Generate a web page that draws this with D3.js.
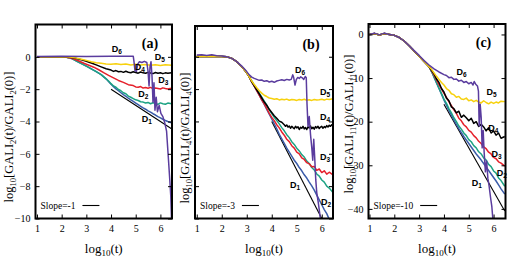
<!DOCTYPE html>
<html>
<head>
<meta charset="utf-8">
<script src="https://cdn.jsdelivr.net/npm/d3@7"></script>
<style>
  body { margin: 0; background: #fff; }
  svg { display: block; }
</style>
</head>
<body>
<div id="chart"></div>
<script>
// ---- data: log10(t) vs log10[GALI_k(t)/GALI_k(0)] ----
const xTickVals = [1, 2, 3, 4, 5, 6];
const seriesNames = ['1', '2', '3', '4', '5', '6'];
const seriesColors = ['#3b5ca9', '#1ea384', '#e5202b', '#000000', '#f7d10d', '#5a3c9e'];
const panelTags = ['(a)', '(b)', '(c)'];
const gaIndex = ['2', '4', '11'];
const slopeText = ['Slope=-1', 'Slope=-3', 'Slope=-10'];

// panel (a) GALI_2
const aTicksY = [0, -2, -4, -6, -8, -10];
const aHead = [[1, 0], [2, 0], [2.2, -0.03], [2.4, -0.1], [2.6, -0.26], [2.8, -0.42], [3.0, -0.58], [3.2, -0.74], [3.4, -0.92], [3.6, -1.1], [3.8, -1.36]];
const aD1 = aHead.concat([[3.9, -1.52], [4.0, -1.7], [4.1, -1.84], [4.2, -1.98], [4.3, -2.1], [4.4, -2.22], [4.5, -2.34], [4.6, -2.44], [4.7, -2.56], [4.8, -2.66], [4.9, -2.76], [5.0, -2.86], [5.1, -2.96], [5.2, -3.06], [5.3, -3.16], [5.4, -3.24], [5.5, -3.34], [5.6, -3.42], [5.7, -3.52], [5.8, -3.6], [5.9, -3.7], [6.0, -3.78], [6.1, -3.86], [6.2, -3.94], [6.3, -4.0], [6.45, -4.08]]);
const aD2 = aHead.concat([[3.9, -1.5], [4.0, -1.66], [4.1, -1.8], [4.2, -1.88], [4.3, -2.02], [4.4, -2.1], [4.5, -2.22], [4.6, -2.28], [4.7, -2.43], [4.8, -2.5], [4.9, -2.58], [5.0, -2.66], [5.1, -2.7], [5.2, -2.78], [5.3, -2.8], [5.4, -2.86], [5.5, -2.82], [5.6, -2.9], [5.7, -2.84], [5.8, -2.88], [5.9, -2.94], [6.0, -2.85], [6.1, -2.9], [6.2, -2.93], [6.3, -2.86], [6.45, -2.9]]);
const aD3 = [[1, 0], [2.1, 0], [2.3, -0.05], [2.5, -0.14], [2.7, -0.26], [2.9, -0.4], [3.1, -0.52], [3.3, -0.64], [3.5, -0.8], [3.7, -0.98], [3.9, -1.15], [4.1, -1.3], [4.3, -1.46], [4.5, -1.58], [4.7, -1.72], [4.9, -1.78], [5.0, -1.86], [5.1, -1.88], [5.2, -1.84], [5.3, -1.93], [5.4, -1.9], [5.5, -1.94], [5.6, -1.89], [5.7, -1.97], [5.8, -1.93], [5.9, -1.96], [6.0, -1.99], [6.1, -1.92], [6.2, -1.96], [6.3, -1.99], [6.45, -1.94]];
const aD4 = [[1, 0], [2.2, 0], [2.4, -0.04], [2.6, -0.1], [2.8, -0.18], [3.0, -0.27], [3.2, -0.38], [3.4, -0.5], [3.6, -0.62], [3.8, -0.74], [4.0, -0.82], [4.1, -0.9], [4.2, -0.85], [4.3, -0.92], [4.4, -0.9], [4.5, -0.96], [4.6, -0.89], [4.7, -0.95], [4.8, -0.98], [4.9, -0.92], [5.0, -0.97], [5.1, -1.01], [5.2, -0.94], [5.3, -0.99], [5.4, -1.02], [5.5, -0.96], [5.6, -1.0], [5.7, -1.04], [5.8, -0.97], [5.9, -1.01], [6.0, -0.98], [6.1, -1.04], [6.2, -0.99], [6.3, -1.02], [6.45, -0.98]];
const aD5 = [[1, 0], [2.2, 0], [2.4, -0.03], [2.6, -0.08], [2.8, -0.15], [3.0, -0.22], [3.2, -0.3], [3.4, -0.36], [3.6, -0.4], [3.8, -0.44], [4.0, -0.46], [4.2, -0.43], [4.4, -0.48], [4.6, -0.45], [4.8, -0.5], [5.0, -0.46], [5.2, -0.5], [5.4, -0.47], [5.6, -0.52], [5.8, -0.49], [6.0, -0.53], [6.2, -0.49], [6.45, -0.52]];
const aD6 = [[1, 0.02], [2, 0.03], [3, 0.02], [4, 0.03], [4.9, 0.04], [4.93, -0.3], [4.97, -0.85], [5.03, -0.9], [5.08, -0.45], [5.15, -0.3], [5.25, -0.35], [5.35, -0.28], [5.45, -0.35], [5.5, -0.9], [5.54, -1.8], [5.58, -0.6], [5.62, -0.3], [5.66, -1.2], [5.7, -2.8], [5.74, -1.6], [5.78, -3.3], [5.83, -2.5], [5.88, -3.4], [5.95, -3.0], [6.02, -3.5], [6.1, -3.7], [6.18, -4.1], [6.25, -4.6], [6.32, -6.2], [6.38, -7.6], [6.42, -8.6], [6.46, -10.5]];
const aSlope = [[4, -2], [6.45, -4.45]];
const aLabelPos = [[5.45, -3.84], [5.31, -2.3], [6.12, -1.43], [5.17, -0.61], [5.98, -0.03], [4.23, 0.47]];

// panel (b) GALI_4
const bTicksY = [0, -2, -4, -6, -8, -10];
const bHead = [[1, 0.02], [1.5, 0.03], [2, 0.02], [2.2, 0], [2.4, -0.1], [2.6, -0.3], [2.8, -0.6], [3.0, -1.0], [3.1, -1.25]];
const bD1 = bHead.concat([[3.2, -1.55], [3.3, -1.82], [3.4, -2.1], [3.5, -2.38], [3.6, -2.66], [3.7, -2.95], [3.8, -3.25], [3.9, -3.55], [4.0, -3.85], [4.1, -4.15], [4.2, -4.45], [4.3, -4.8], [4.4, -5.08], [4.5, -5.35], [4.6, -5.65], [4.7, -5.9], [4.8, -6.15], [4.9, -6.4], [5.0, -6.6], [5.1, -6.85], [5.2, -7.05], [5.3, -7.3], [5.4, -7.5], [5.5, -7.75], [5.6, -7.98], [5.7, -8.25], [5.8, -8.55], [5.9, -8.85], [6.0, -9.15], [6.1, -9.45], [6.2, -9.7], [6.3, -10.05], [6.4, -10.4]]);
const bD2 = bHead.concat([[3.2, -1.5], [3.3, -1.75], [3.4, -2.0], [3.5, -2.25], [3.6, -2.5], [3.7, -2.75], [3.8, -3.0], [3.9, -3.28], [4.0, -3.52], [4.1, -3.75], [4.2, -3.95], [4.3, -4.15], [4.4, -4.38], [4.5, -4.58], [4.6, -4.82], [4.7, -5.0], [4.8, -5.25], [4.9, -5.42], [5.0, -5.65], [5.1, -5.82], [5.2, -6.05], [5.3, -6.2], [5.4, -6.45], [5.5, -6.6], [5.6, -6.85], [5.7, -7.0], [5.8, -7.25], [5.9, -7.38], [6.0, -7.62], [6.1, -7.75], [6.2, -8.0], [6.3, -8.12], [6.45, -8.4]]);
const bD3 = bHead.concat([[3.2, -1.55], [3.3, -1.82], [3.4, -2.1], [3.5, -2.38], [3.6, -2.66], [3.7, -2.92], [3.8, -3.2], [3.9, -3.5], [4.0, -3.75], [4.1, -3.95], [4.2, -4.2], [4.3, -4.4], [4.4, -4.65], [4.5, -4.85], [4.6, -5.1], [4.7, -5.25], [4.8, -5.5], [4.9, -5.65], [5.0, -5.9], [5.1, -6.0], [5.2, -6.25], [5.3, -6.35], [5.4, -6.55], [5.5, -6.62], [5.6, -6.8], [5.7, -6.78], [5.8, -7.02], [5.9, -6.94], [6.0, -7.16], [6.1, -7.05], [6.2, -7.26], [6.3, -7.14], [6.45, -7.3]]);
const bD4 = bHead.concat([[3.2, -1.55], [3.3, -1.8], [3.4, -2.05], [3.5, -2.3], [3.6, -2.55], [3.7, -2.8], [3.8, -3.0], [3.9, -3.25], [4.0, -3.45], [4.1, -3.65], [4.2, -3.8], [4.3, -3.98], [4.4, -4.05], [4.5, -4.2], [4.55, -4.3], [4.6, -4.22], [4.65, -4.35], [4.7, -4.28], [4.75, -4.42], [4.8, -4.3], [4.85, -4.38], [4.9, -4.45], [4.95, -4.3], [5.0, -4.4], [5.05, -4.33], [5.1, -4.5], [5.15, -4.36], [5.2, -4.42], [5.25, -4.3], [5.3, -4.46], [5.35, -4.38], [5.4, -4.5], [5.45, -4.34], [5.5, -4.4], [5.55, -4.28], [5.6, -4.45], [5.65, -4.36], [5.7, -4.48], [5.75, -4.32], [5.8, -4.4], [5.85, -4.3], [5.9, -4.44], [5.95, -4.35], [6.0, -4.3], [6.05, -4.42], [6.1, -4.32], [6.15, -4.38], [6.2, -4.26], [6.25, -4.34], [6.3, -4.24], [6.35, -4.3], [6.4, -4.2], [6.45, -4.26]]);
const bD5 = bHead.concat([[3.2, -1.5], [3.3, -1.72], [3.4, -1.92], [3.5, -2.1], [3.6, -2.25], [3.7, -2.38], [3.8, -2.46], [3.9, -2.55], [4.0, -2.58], [4.1, -2.63], [4.2, -2.6], [4.3, -2.67], [4.4, -2.63], [4.5, -2.66], [4.6, -2.62], [4.7, -2.69], [4.8, -2.64], [4.9, -2.66], [5.0, -2.7], [5.1, -2.64], [5.2, -2.67], [5.3, -2.63], [5.4, -2.69], [5.5, -2.66], [5.6, -2.7], [5.7, -2.64], [5.8, -2.68], [5.9, -2.66], [6.0, -2.63], [6.1, -2.68], [6.2, -2.62], [6.3, -2.65], [6.45, -2.6]]);
const bD6 = [[1, 0.1], [1.2, 0.12], [1.4, 0.08], [1.6, 0.12], [1.8, 0.06], [2.0, 0.05], [2.2, 0], [2.4, -0.1], [2.6, -0.3], [2.8, -0.58], [3.0, -0.92], [3.1, -1.12], [3.2, -1.26], [3.3, -1.34], [3.4, -1.4], [3.5, -1.46], [3.6, -1.44], [3.7, -1.52], [3.8, -1.48], [3.9, -1.56], [4.0, -1.52], [4.1, -1.58], [4.2, -1.5], [4.3, -1.46], [4.4, -1.42], [4.5, -1.47], [4.6, -1.4], [4.7, -1.44], [4.78, -1.4], [4.84, -1.12], [4.88, -1.3], [4.93, -1.75], [4.98, -1.42], [5.04, -1.28], [5.1, -1.34], [5.16, -1.24], [5.22, -1.3], [5.28, -1.4], [5.34, -1.22], [5.38, -1.3], [5.41, -2.9], [5.45, -4.3], [5.5, -3.7], [5.55, -4.8], [5.6, -5.6], [5.64, -6.4], [5.68, -5.1], [5.72, -6.3], [5.76, -7.6], [5.8, -8.4], [5.86, -9.0], [5.92, -9.7], [5.98, -10.5]];
const bSlope = [[4, -4], [6, -10]];
const bLabelPos = [[4.93, -7.91], [6.17, -8.95], [6.13, -6.17], [6.13, -3.7], [6.13, -2.16], [5.13, -0.82]];

// panel (c) GALI_11
const cTicksY = [0, -10, -20, -30, -40];
const cHead = [[1, 0], [1.2, 0.2], [1.4, -0.1], [1.6, 0.2], [1.8, 0], [2.0, -0.2], [2.2, -0.7], [2.4, -1.5], [2.6, -2.6], [2.8, -3.8], [3.0, -5.0], [3.2, -6.2], [3.4, -7.4]];
const cD1 = cHead.concat([[3.5, -8.5], [3.6, -9.8], [3.7, -11.1], [3.8, -12.4], [3.9, -13.7], [4.0, -15.0], [4.1, -16.2], [4.2, -17.4], [4.3, -18.5], [4.4, -19.6], [4.5, -20.6], [4.6, -21.6], [4.7, -22.5], [4.8, -23.4], [4.9, -24.2], [5.0, -25.0], [5.1, -25.8], [5.2, -26.6], [5.3, -27.4], [5.4, -28.1], [5.5, -28.8], [5.6, -29.6], [5.7, -30.4], [5.8, -31.2], [5.9, -32.0], [6.0, -32.8], [6.1, -33.6], [6.2, -34.5], [6.3, -35.4], [6.45, -36.6]]);
const cD2 = cHead.concat([[3.5, -8.5], [3.6, -9.7], [3.7, -11.0], [3.8, -12.3], [3.9, -13.5], [4.0, -14.8], [4.1, -15.8], [4.2, -17.0], [4.3, -18.0], [4.4, -19.1], [4.5, -20.0], [4.6, -21.0], [4.7, -21.7], [4.8, -22.6], [4.9, -23.2], [5.0, -24.1], [5.1, -24.6], [5.2, -25.5], [5.3, -26.0], [5.4, -26.9], [5.5, -27.4], [5.6, -28.3], [5.7, -28.8], [5.8, -29.8], [5.9, -30.3], [6.0, -31.3], [6.1, -31.8], [6.2, -32.9], [6.3, -33.5], [6.45, -34.8]]);
const cD3 = cHead.concat([[3.5, -8.3], [3.6, -9.3], [3.7, -10.4], [3.8, -11.5], [3.9, -12.5], [4.0, -13.5], [4.1, -14.4], [4.2, -15.4], [4.3, -16.3], [4.4, -17.3], [4.5, -18.1], [4.6, -19.2], [4.7, -19.8], [4.8, -20.7], [4.9, -21.2], [5.0, -22.0], [5.1, -22.4], [5.2, -23.2], [5.3, -23.7], [5.4, -24.5], [5.5, -25.0], [5.6, -25.8], [5.7, -26.2], [5.8, -27.0], [5.9, -27.4], [6.0, -28.2], [6.1, -28.5], [6.2, -29.2], [6.3, -29.5], [6.45, -30.2]]);
const cD4 = cHead.concat([[3.5, -8.2], [3.6, -9.0], [3.7, -10.2], [3.8, -11.0], [3.9, -12.4], [4.0, -13.2], [4.1, -14.6], [4.2, -15.2], [4.3, -16.6], [4.4, -17.0], [4.5, -18.0], [4.6, -17.6], [4.7, -19.0], [4.8, -18.5], [4.9, -19.1], [5.0, -19.8], [5.1, -19.2], [5.2, -20.4], [5.3, -20.0], [5.4, -21.1], [5.5, -20.6], [5.6, -21.2], [5.7, -22.1], [5.8, -21.4], [5.9, -22.6], [6.0, -22.1], [6.1, -23.1], [6.2, -22.6], [6.3, -23.8], [6.45, -23.4]]);
const cD5 = cHead.concat([[3.5, -8.0], [3.6, -8.8], [3.7, -9.6], [3.8, -10.3], [3.9, -11.0], [4.0, -11.6], [4.1, -12.4], [4.2, -12.8], [4.3, -13.6], [4.4, -13.8], [4.5, -14.4], [4.6, -14.2], [4.7, -14.8], [4.8, -14.9], [4.9, -14.6], [5.0, -15.2], [5.1, -15.0], [5.2, -15.4], [5.3, -15.1], [5.4, -15.5], [5.5, -15.7], [5.6, -15.2], [5.7, -15.6], [5.8, -15.9], [5.9, -15.5], [6.0, -15.8], [6.1, -15.5], [6.2, -15.7], [6.3, -15.3], [6.45, -15.4]]);
const cD6 = [[1, 0], [1.2, 0.3], [1.4, -0.1], [1.6, 0.3], [1.8, 0], [2.0, -0.2], [2.2, -0.7], [2.4, -1.5], [2.6, -2.6], [2.8, -3.7], [3.0, -4.8], [3.2, -6.0], [3.4, -7.0], [3.6, -7.9], [3.8, -8.6], [4.0, -9.2], [4.1, -9.4], [4.2, -9.9], [4.3, -9.8], [4.4, -10.3], [4.5, -10.2], [4.6, -10.7], [4.7, -10.5], [4.8, -11.0], [4.9, -10.8], [5.0, -11.3], [5.1, -11.0], [5.17, -11.6], [5.22, -10.8], [5.28, -11.4], [5.35, -11.8], [5.39, -13], [5.42, -21], [5.46, -16], [5.5, -19], [5.54, -26], [5.58, -22], [5.62, -27], [5.67, -31.5], [5.72, -29], [5.77, -33], [5.82, -34.8], [5.88, -37.5], [5.93, -39.5], [5.98, -43]];
const cSlope = [[4, -16], [6.45, -40.5]];
const cLabelPos = [[5.32, -34.1], [6.33, -31.8], [6.12, -27.3], [5.99, -21.5], [5.92, -13.1], [4.71, -8.54]];

// ---- layout ----
const W = 509, H = 262;
const panels = [
  { left: 35.5, right: 172, top: 24.5, bottom: 218.5, xDom: [0.94, 6.47], yDom: [-10, 2], ticksY: aTicksY, showY: true,
    series: [aD1, aD2, aD3, aD4, aD5, aD6], slope: aSlope, labels: aLabelPos, yLab: [9, 137] },
  { left: 195, right: 333, top: 26, bottom: 218.5, xDom: [0.93, 6.45], yDom: [-10, 1.9], ticksY: bTicksY, showY: false,
    series: [bD1, bD2, bD3, bD4, bD5, bD6], slope: bSlope, labels: bLabelPos, yLab: [185, 138] },
  { left: 368.5, right: 505.5, top: 24, bottom: 218.5, xDom: [0.96, 6.48], yDom: [-42.2, 2.4], ticksY: cTicksY, showY: true,
    series: [cD1, cD2, cD3, cD4, cD5, cD6], slope: cSlope, labels: cLabelPos, yLab: [349, 124] }
];

const serif = '"Liberation Serif", "Times New Roman", serif';
const sans = '"Liberation Sans", Arial, sans-serif';

const svg = d3.select('#chart').append('svg')
  .attr('width', W)
  .attr('height', H);

// text with subscripts: parts = [[string, isSub], ...]
function richText(sel, parts, subSize, shift) {
  parts.forEach(([t, sub], i) => {
    const prevSub = i > 0 && parts[i - 1][1];
    const ts = sel.append('tspan').text(t);
    if (sub) {
      ts.attr('font-size', subSize);
      if (!prevSub) ts.attr('dy', shift);
    } else if (prevSub) {
      ts.attr('dy', -shift);
    }
  });
}

panels.forEach((p, pi) => {
  const x = d3.scaleLinear().domain(p.xDom).range([p.left, p.right]);
  const y = d3.scaleLinear().domain(p.yDom).range([p.bottom, p.top]);
  const g = svg.append('g');

  const clipId = 'clip' + pi;
  svg.append('clipPath').attr('id', clipId)
    .append('rect')
    .attr('x', p.left).attr('y', p.top)
    .attr('width', p.right - p.left).attr('height', p.bottom - p.top);

  const line = d3.line().x(d => x(d[0])).y(d => y(d[1]));
  const plot = g.append('g').attr('clip-path', `url(#${clipId})`);

  // slope guide
  plot.append('path')
    .attr('d', line(p.slope))
    .attr('fill', 'none')
    .attr('stroke', '#000')
    .attr('stroke-width', 1.1);

  // curves D1..D6
  p.series.forEach((s, i) => {
    plot.append('path')
      .attr('d', line(s))
      .attr('fill', 'none')
      .attr('stroke', seriesColors[i])
      .attr('stroke-width', 1.5)
      .attr('stroke-linejoin', 'round');
  });

  // axes, ticks inward on all four sides
  const tk = 4;
  g.append('g').attr('transform', `translate(0,${p.bottom})`)
    .call(d3.axisBottom(x).tickValues(xTickVals).tickSize(-tk).tickPadding(6).tickFormat(d3.format('d')));
  g.append('g').attr('transform', `translate(0,${p.top})`)
    .call(d3.axisTop(x).tickValues(xTickVals).tickSize(-tk).tickFormat(''));
  g.append('g').attr('transform', `translate(${p.left},0)`)
    .call(d3.axisLeft(y).tickValues(p.ticksY).tickSize(-tk).tickPadding(5)
      .tickFormat(p.showY ? d3.format('d') : ''));
  g.append('g').attr('transform', `translate(${p.right},0)`)
    .call(d3.axisRight(y).tickValues(p.ticksY).tickSize(-tk).tickFormat(''));

  g.selectAll('.domain').remove();
  g.selectAll('.tick line').attr('stroke', '#000').attr('stroke-width', 1);
  g.selectAll('.tick text')
    .attr('font-family', serif)
    .attr('font-size', 10)
    .attr('fill', '#000');

  // frame
  g.append('rect')
    .attr('x', p.left).attr('y', p.top)
    .attr('width', p.right - p.left).attr('height', p.bottom - p.top)
    .attr('fill', 'none')
    .attr('stroke', '#000')
    .attr('stroke-width', 2);

  // curve labels
  p.labels.forEach((pos, i) => {
    const t = g.append('text')
      .attr('x', x(pos[0]))
      .attr('y', y(pos[1]) + 3)
      .attr('text-anchor', 'middle')
      .attr('font-family', sans)
      .attr('font-weight', 'bold')
      .attr('font-size', 9)
      .attr('fill', '#000');
    richText(t, [['D', false], [seriesNames[i], true]], 6.5, 2);
  });

  // panel tag
  g.append('text')
    .attr('x', p.right - 22)
    .attr('y', p.top + 23)
    .attr('text-anchor', 'middle')
    .attr('font-family', serif)
    .attr('font-weight', 'bold')
    .attr('font-size', 14)
    .text(panelTags[pi]);

  // slope legend
  const st = g.append('text')
    .attr('x', p.left + 5)
    .attr('y', p.bottom - 10)
    .attr('font-family', serif)
    .attr('font-size', 9.5)
    .text(slopeText[pi]);
  const sx = p.left + 5 + st.node().getComputedTextLength() + 7;
  g.append('line')
    .attr('x1', sx).attr('x2', sx + 17)
    .attr('y1', p.bottom - 13).attr('y2', p.bottom - 13)
    .attr('stroke', '#000').attr('stroke-width', 1.1);

  // x label
  const xl = g.append('text')
    .attr('x', (p.left + p.right) / 2)
    .attr('y', 253)
    .attr('text-anchor', 'middle')
    .attr('font-family', serif)
    .attr('font-size', 13);
  richText(xl, [['log', false], ['10', true], ['(t)', false]], 9, 3);

  // y label
  const yl = g.append('text')
    .attr('transform', `translate(${p.yLab[0] + 4},${p.yLab[1]}) rotate(-90)`)
    .attr('text-anchor', 'middle')
    .attr('font-family', serif)
    .attr('font-size', 12.5);
  const k = gaIndex[pi];
  richText(yl, [['log', false], ['10', true], ['[GALI', false], [k, true], ['(t)/GALI', false], [k, true], ['(0)]', false]], 8.5, 3);
});
</script>
</body>
</html>
